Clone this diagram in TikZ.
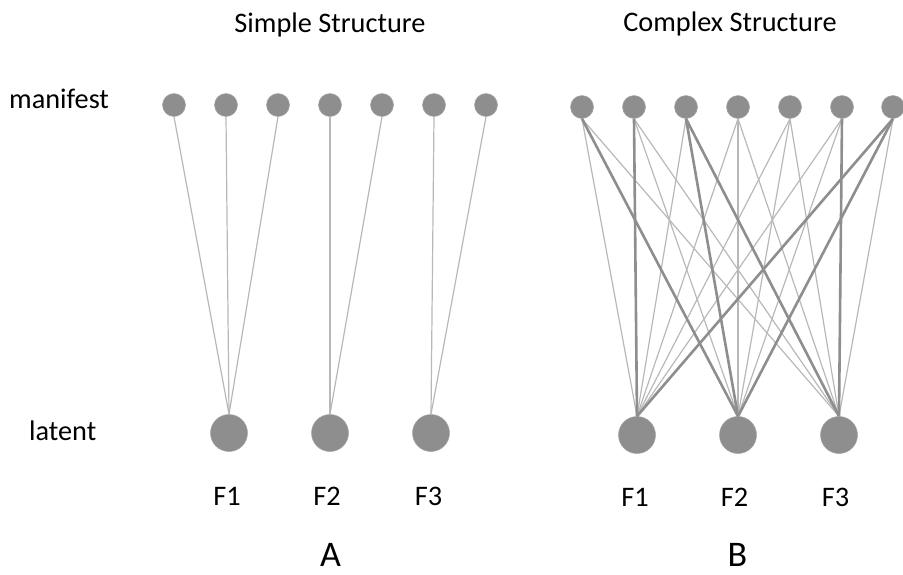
\documentclass[tikz,border=0pt]{standalone}
\usepackage{fontspec}
\setmainfont{Carlito}
\definecolor{nodegray}{HTML}{8E8E8E}
\definecolor{thingray}{HTML}{B8B8B8}
\definecolor{thickgray}{HTML}{8E8E8E}
\begin{document}
\begin{tikzpicture}[x=1pt,y=-1pt,
  man/.style={circle,fill=nodegray,draw=nodegray!80!white,line width=0.5pt,minimum size=23pt,inner sep=0pt},
  lat/.style={circle,fill=nodegray,draw=nodegray!80!white,line width=0.5pt,minimum size=37pt,inner sep=0pt},
  lbl/.style={font=\fontsize{28.3}{32}\selectfont,anchor=base,inner sep=0pt},
  big/.style={font=\fontsize{36}{40}\selectfont,anchor=base,inner sep=0pt},
  thin/.style={draw=thingray,line width=1.2pt},
  thick/.style={draw=thickgray,line width=2.6pt}]
\useasboundingbox (0,0) rectangle (903,574);
% titles and side labels
\node[lbl] (tA) at (330,32) {Simple Structure};
\node[lbl] (tB) at (730,31) {Complex Structure};
\node[lbl,anchor=base west] (lm) at (9,108) {manifest};
\node[lbl,anchor=base west] (ll) at (29,440) {latent};
% left panel nodes
\foreach \i/\x in {1/174,2/226,3/278,4/330,5/382,6/434,7/486}
  \node[man] (a\i) at (\x,105) {};
\foreach \i/\x in {1/229,2/330,3/431}
  \node[lat] (af\i) at (\x,433) {};
% right panel nodes
\foreach \i/\x in {1/582,2/634,3/686,4/738,5/790,6/842,7/893}
  \node[man] (b\i) at (\x,107) {};
\foreach \i/\x in {1/637,2/738,3/839}
  \node[lat] (bf\i) at (\x,435) {};
% left connectors
\foreach \m/\f in {1/1,2/1,3/1,4/2,5/2,6/3,7/3}
  \draw[thin] (a\m.south) -- (af\f.north);
% right connectors: thin
\foreach \m/\f in {1/1,1/3,2/2,2/3,3/1,4/1,4/2,4/3,5/1,5/2,5/3,6/1,6/2,7/3}
  \draw[thin] (b\m.south) -- (bf\f.north);
% right connectors: thick
\foreach \m/\f in {1/2,2/1,3/2,3/3,6/3,7/1,7/2}
  \draw[thick] (b\m.south) -- (bf\f.north);
% factor labels
\node[lbl] (la1) at (227,505) {F1};
\node[lbl] (la2) at (327,505) {F2};
\node[lbl] (la3) at (428.5,505) {F3};
\node[lbl] (lb1) at (635,506) {F1};
\node[lbl] (lb2) at (734.5,506) {F2};
\node[lbl] (lb3) at (835.5,506) {F3};
\node[big] (pA) at (330.5,566) {A};
\node[big] (pB) at (737.5,566) {B};
\end{tikzpicture}
\end{document}
